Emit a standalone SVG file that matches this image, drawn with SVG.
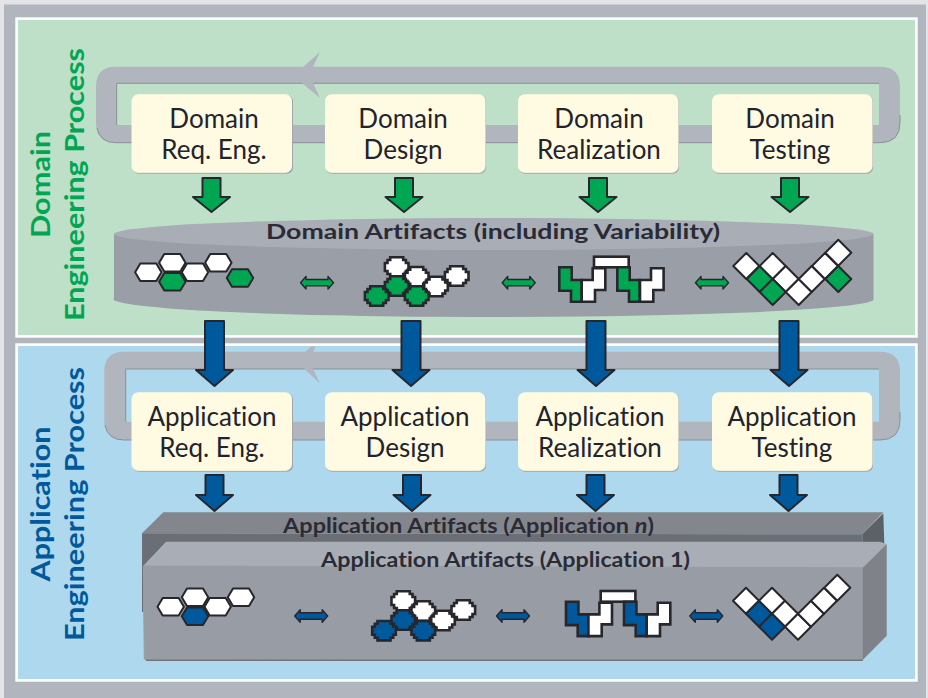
<svg xmlns="http://www.w3.org/2000/svg" width="928" height="698" viewBox="0 0 928 698">
<style>
text{font-family:Lato,"Liberation Sans",sans-serif;font-variant-ligatures:none}
.n{font-size:26px;fill:#23232d;text-anchor:middle}
.t{font-size:21.500px;font-weight:700;fill:#2b2b35}
.ta{font-size:20px}
.s{font-size:26px;font-weight:700;text-anchor:middle}
.box{fill:#fffbe2;stroke:#fffbe2}
.bs{fill:#a3a6a9}
.o{stroke:#26262c;stroke-width:2;stroke-linejoin:round}
.m{stroke-width:2.600;stroke-linejoin:miter}
.d{stroke-width:1.400}
.w{fill:#fff}
.loop{fill:#b1b5bd;fill-rule:evenodd}
.g{fill:#00a651}
.b{fill:#00599c}
.sh{fill:none;stroke:#8b8f97;stroke-width:1}
</style>
<defs>
<path id="hex" d="M-13.200,0L-8,-8.800H8L13.200,0L8,8.800H-8Z"/>
<path id="plus" d="M-6.500,-9.700H6.500V-7H9.200V-4H11.800V4H9.200V7H6.500V9.700H-6.500V7H-9.200V4H-11.800V-4H-9.200V-7H-6.500Z"/>
<path id="dia" d="M0,-13L13,0L0,13L-13,0Z"/>
<path id="dbl" d="M-16.500,0L-11,-6.300V-3.200H11V-6.300L16.500,0L11,6.300V3.200H-11V6.300Z"/>
<path id="t1" d="M0,0H12.400V12.700H22.400V34.400H11.700V23.400H0Z"/>
<path id="t2" d="M0,12.700H11V1H23.600V22.700H13.300V34.400H0Z"/>
<path id="aS" d="M-9,0H9V19H18.500L0,34L-18.500,19H-9Z"/>
<path id="aL" d="M-9.500,0H9.500V49H18.500L0,65L-18.500,49H-9.500Z"/>
<path id="aM" d="M-9,0H9V20H18.500L0,36L-18.500,20H-9Z"/>
</defs>

<rect width="928" height="698" fill="#e3e4e6"/>
<rect x="4" y="4.500" width="922" height="694" fill="#b1b5bd"/>
<rect id="domain-panel" x="16.650" y="18.650" width="899.700" height="317.700" fill="#bee0c9" stroke="#fff" stroke-width="2.700"/>
<rect id="application-panel" x="16.650" y="344.650" width="899.700" height="335.700" fill="#aed8ed" stroke="#fff" stroke-width="2.700"/>

<g id="process-labels">
<text class="s g" transform="translate(50,184.500) rotate(-90)" textLength="107" lengthAdjust="spacingAndGlyphs">Domain</text>
<text class="s g" transform="translate(83.500,184.500) rotate(-90)" textLength="273" lengthAdjust="spacingAndGlyphs">Engineering Process</text>
<text class="s b" transform="translate(50,504) rotate(-90)" textLength="155" lengthAdjust="spacingAndGlyphs">Application</text>
<text class="s b" transform="translate(83.500,504) rotate(-90)" textLength="274" lengthAdjust="spacingAndGlyphs">Engineering Process</text>
</g>

<g id="connectors">
<g id="domain-loop">
<path class="loop" d="M116,66.700H880Q900,66.700 900,86.700V122.700Q900,142.700 880,142.700H116Q96,142.700 96,122.700V86.700Q96,66.700 116,66.700ZM116.700,83.300V125H879V83.300Z"/>
<path class="sh" d="M116.700,125V83.300H879M900,115V122.700Q900,142.700 880,142.700H116Q100,142.700 97,128"/>
<path class="loop" d="M320,52L302,68V83L320,98L313,83V67Z"/>
</g>
<g id="application-loop">
<path class="loop" d="M124,351.700H880Q900,351.700 900,371.700V420Q900,440 880,440H124Q104.300,440 104.300,420V371.700Q104.300,351.700 124,351.700ZM125.700,369V421.700H879V369Z"/>
<path class="sh" d="M125.700,421.700V369H879M900,412V420Q900,440 880,440H124Q108,440 105,425"/>
<path class="loop" d="M311,346.500H315.600L313,352V369L320,383.500L302,366.700V355Z"/>
</g>
</g>

<g id="domain-artifacts">
<path d="M114,233.500V298A380,18 0 0 0 873.500,300V233.500Z" fill="#9a9ea6"/>
<ellipse cx="493.700" cy="234" rx="379.700" ry="16" fill="#a9adb6"/>
<text class="t" x="266" y="239" textLength="454" lengthAdjust="spacingAndGlyphs">Domain Artifacts (including Variability)</text>
<g class="o">
<use href="#hex" x="148.300" y="272.300" class="w"/>
<use href="#hex" x="172.300" y="262.700" class="w"/>
<use href="#hex" x="172.300" y="281.700" class="g"/>
<use href="#hex" x="195" y="272.300" class="w"/>
<use href="#hex" x="218.300" y="262.700" class="w"/>
<use href="#hex" x="240" y="278" class="g"/>
</g>
<g class="o m">
<use href="#plus" x="396.700" y="267" class="w"/>
<use href="#plus" x="416.700" y="276.700" class="w"/>
<use href="#plus" x="436" y="286.500" class="w"/>
<use href="#plus" x="456.700" y="276" class="w"/>
<use href="#plus" x="396.700" y="286" class="g"/>
<use href="#plus" x="376.700" y="296" class="g"/>
<use href="#plus" x="416.700" y="296" class="g"/>
</g>
<g class="o m">
<use href="#t1" x="559.300" y="267.300" class="g"/>
<use href="#t2" x="581.700" y="267.300" class="w"/>
<rect x="594" y="256.700" width="34.700" height="10.600" class="w"/>
<use href="#t1" x="617.300" y="267.300" class="g"/>
<use href="#t2" x="640" y="267.300" class="w"/>
</g>
<g class="o">
<use href="#dia" x="746.300" y="266" class="w"/>
<use href="#dia" x="759.700" y="279" class="g"/>
<use href="#dia" x="772.700" y="266" class="w"/>
<use href="#dia" x="785.700" y="279" class="w"/>
<use href="#dia" x="772.700" y="292" class="g"/>
<use href="#dia" x="798.700" y="292" class="w"/>
<use href="#dia" x="811.700" y="279" class="w"/>
<use href="#dia" x="825" y="266" class="w"/>
<use href="#dia" x="838.300" y="252.700" class="w"/>
<use href="#dia" x="838.300" y="279" class="g"/>
</g>
<g class="o d g">
<use href="#dbl" x="317" y="282.700"/>
<use href="#dbl" x="518.700" y="282.700"/>
<use href="#dbl" x="712" y="282.700"/>
</g>
</g>

<g id="application-artifacts-n">
<path d="M142,533.300L163.300,512.300H883.300L862.300,534.300Z" fill="#83878d"/>
<path d="M142,533.300L862.300,534.300V542H166L143.500,566V612H142Z" fill="#6b6f75"/>
<path d="M862.300,534.300L883.300,513.300L884.300,544H862.300Z" fill="#5c6165"/>
<text class="t ta" x="283" y="533" textLength="371" lengthAdjust="spacingAndGlyphs">Application Artifacts (Application <tspan font-style="italic">n</tspan>)</text>
</g>
<g id="application-artifacts-1">
<path d="M143.300,566L166.700,541.700H880L886.700,544L862.700,567.700Z" fill="#a9adb6"/>
<path d="M143.300,566L862.700,567.700V660L144.300,659.300Z" fill="#989ca4" stroke="#989ca4"/>
<path d="M146,660.300H862.700" stroke="#70747a" stroke-width="1.600"/>
<path d="M862.700,567.700L886.700,544V635.700L862.700,660Z" fill="#7f8389"/>
<text class="t ta" x="321" y="567" textLength="369" lengthAdjust="spacingAndGlyphs">Application Artifacts (Application 1)</text>
<g class="o">
<use href="#hex" x="170.700" y="606.700" class="w"/>
<use href="#hex" x="195" y="597.300" class="w"/>
<use href="#hex" x="195" y="616.300" class="b"/>
<use href="#hex" x="217.700" y="606.700" class="w"/>
<use href="#hex" x="241" y="597.300" class="w"/>
</g>
<g class="o m">
<use href="#plus" x="403.300" y="601" class="w"/>
<use href="#plus" x="423.300" y="611" class="w"/>
<use href="#plus" x="443" y="620.500" class="w"/>
<use href="#plus" x="463.300" y="610" class="w"/>
<use href="#plus" x="403.300" y="620" class="b"/>
<use href="#plus" x="384" y="630.700" class="b"/>
<use href="#plus" x="423.300" y="630.700" class="b"/>
</g>
<g class="o m">
<use href="#t1" x="566" y="601.700" class="b"/>
<use href="#t2" x="588.400" y="601.700" class="w"/>
<rect x="600.700" y="591" width="34.700" height="10.700" class="w"/>
<use href="#t1" x="624" y="601.700" class="b"/>
<use href="#t2" x="646.700" y="601.700" class="w"/>
</g>
<g class="o">
<use href="#dia" x="746" y="600.700" class="w"/>
<use href="#dia" x="759" y="613.700" class="b"/>
<use href="#dia" x="772" y="600.700" class="w"/>
<use href="#dia" x="785" y="613.700" class="w"/>
<use href="#dia" x="772" y="626.700" class="b"/>
<use href="#dia" x="798" y="626.700" class="w"/>
<use href="#dia" x="811" y="613.700" class="w"/>
<use href="#dia" x="824" y="600.700" class="w"/>
<use href="#dia" x="837.300" y="587.700" class="w"/>
</g>
<g class="o d b">
<use href="#dbl" x="311.200" y="616"/>
<use href="#dbl" x="513" y="616"/>
<use href="#dbl" x="706.300" y="616"/>
</g>
</g>

<g id="flow-arrows" class="o">
<use href="#aS" x="211.500" y="178" class="g"/>
<use href="#aS" x="404" y="178" class="g"/>
<use href="#aS" x="598" y="178" class="g"/>
<use href="#aS" x="790" y="178" class="g"/>
<use href="#aL" x="214.500" y="321" class="b"/>
<use href="#aL" x="411" y="321" class="b"/>
<use href="#aL" x="596" y="321" class="b"/>
<use href="#aL" x="789" y="321" class="b"/>
<use href="#aM" x="214.500" y="475" class="b"/>
<use href="#aM" x="412" y="475" class="b"/>
<use href="#aM" x="595.500" y="475" class="b"/>
<use href="#aM" x="788.500" y="475" class="b"/>
</g>

<g id="domain-req-eng"><rect class="bs" x="132.700" y="95.300" width="160.300" height="78.400" rx="6"/><rect class="box" x="132" y="94.800" width="159.500" height="77.500" rx="6"/><text class="n" x="214" y="127.500">Domain</text><text class="n" x="214" y="159">Req. Eng.</text></g>
<g id="domain-design"><rect class="bs" x="326" y="95.300" width="160" height="78.400" rx="6"/><rect class="box" x="325.500" y="94.800" width="159.500" height="77.500" rx="6"/><text class="n" x="403" y="127.500">Domain</text><text class="n" x="403" y="159">Design</text></g>
<g id="domain-realization"><rect class="bs" x="519" y="95.300" width="160" height="78.400" rx="6"/><rect class="box" x="518.500" y="94.800" width="159.500" height="77.500" rx="6"/><text class="n" x="599" y="127.500">Domain</text><text class="n" x="599" y="159">Realization</text></g>
<g id="domain-testing"><rect class="bs" x="713" y="95.300" width="160" height="78.400" rx="6"/><rect class="box" x="712.500" y="94.800" width="159.500" height="77.500" rx="6"/><text class="n" x="790" y="127.500">Domain</text><text class="n" x="790" y="159">Testing</text></g>
<g id="application-req-eng"><rect class="bs" x="132.700" y="393.300" width="160.300" height="78.400" rx="6"/><rect class="box" x="132" y="392.800" width="159.500" height="77.500" rx="6"/><text class="n" x="212" y="426">Application</text><text class="n" x="212" y="457">Req. Eng.</text></g>
<g id="application-design"><rect class="bs" x="326" y="393.300" width="160" height="78.400" rx="6"/><rect class="box" x="325.500" y="392.800" width="159.500" height="77.500" rx="6"/><text class="n" x="405" y="426">Application</text><text class="n" x="405" y="457">Design</text></g>
<g id="application-realization"><rect class="bs" x="519" y="393.300" width="160" height="78.400" rx="6"/><rect class="box" x="518.500" y="392.800" width="159.500" height="77.500" rx="6"/><text class="n" x="600" y="426">Application</text><text class="n" x="600" y="457">Realization</text></g>
<g id="application-testing"><rect class="bs" x="713" y="393.300" width="160" height="78.400" rx="6"/><rect class="box" x="712.500" y="392.800" width="159.500" height="77.500" rx="6"/><text class="n" x="792" y="426">Application</text><text class="n" x="792" y="457">Testing</text></g>
</svg>
